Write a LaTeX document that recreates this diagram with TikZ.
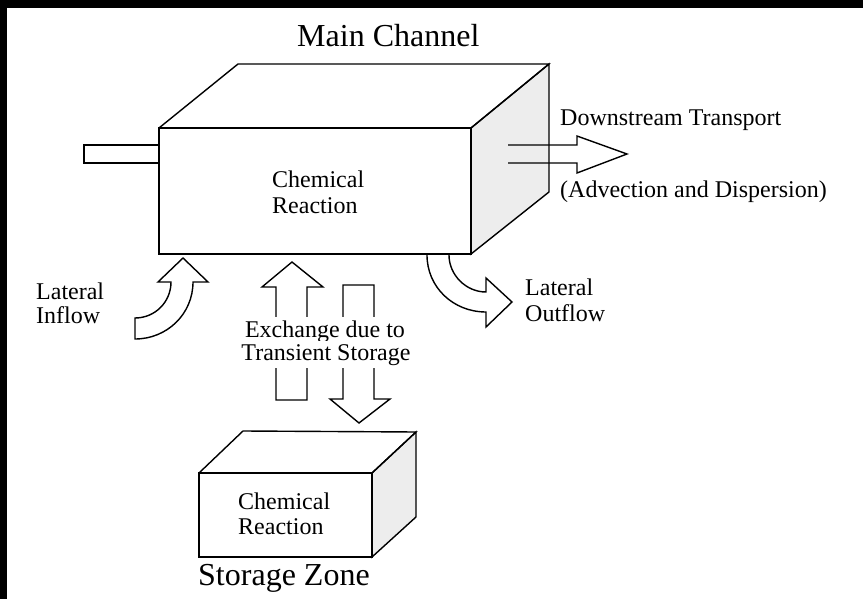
\documentclass[tikz,border=0pt]{standalone}
\usepackage{fontspec}
\setmainfont{Liberation Serif}
\begin{document}
\begin{tikzpicture}[x=1pt,y=-1pt,
  line/.style={draw=black,line width=1.4pt,line join=miter},
  face/.style={line,fill=black!7},
  lbl/.style={anchor=base west,inner sep=0pt,font=\fontsize{24}{26}\selectfont},
  ttl/.style={anchor=base west,inner sep=0pt,font=\fontsize{32}{34}\selectfont},
  xlbl/.style={anchor=base,fill=white,inner xsep=2pt,inner ysep=3pt,font=\fontsize{24}{26}\selectfont}]
\useasboundingbox (0,0) rectangle (863,599);
\fill[white] (0,0) rectangle (863,599);
\fill[black] (0,0) rectangle (863,8);
\fill[black] (0,0) rectangle (7,599);

% main channel box
\coordinate (m1) at (159,128);
\coordinate (m2) at (471,128);
\coordinate (m3) at (471,254);
\coordinate (m4) at (159,254);
\coordinate (m5) at (238,64);
\coordinate (m6) at (549,64);
\coordinate (m7) at (549,192);
\path[face] (m2) -- (m6) -- (m7) -- (m3) -- cycle;
\path[line] (m1) -- (m5) -- (m6) -- (m2);
\path[line] (m1) rectangle (m3);

% inlet pipe
\path[line] (159,145) -- (84,145) -- (84,163) -- (159,163);

% downstream arrow
\path[line] (508,145) -- (577,145) -- (577,136) -- (627,154) -- (577,173) -- (577,163) -- (508,163);

% lateral inflow
\path[line,fill=white] (183,258) -- (208,282) -- (193,282)
  .. controls (193,314) and (167,339) .. (135,339) -- (135,318)
  .. controls (155,318) and (171,302) .. (171,282) -- (158,282) -- cycle;

% lateral outflow
\path[line,fill=white] (427,255) .. controls (427,287) and (453,312) .. (486,312)
  -- (486,327) -- (512,302) -- (486,278) -- (486,292)
  .. controls (466,292) and (449,275) .. (449,255);

% exchange arrows
\path[line] (276,400) -- (276,287) -- (262,287) -- (292,262) -- (323,287) -- (307,287) -- (307,400) -- cycle;
\path[line] (343,285) -- (374,285) -- (374,399) -- (390,399) -- (359,423) -- (330,399) -- (343,399) -- cycle;

% storage zone box
\coordinate (s1) at (199,473);
\coordinate (s2) at (372,473);
\coordinate (s3) at (372,557);
\coordinate (s5) at (243,431);
\coordinate (s6) at (416,432);
\coordinate (s7) at (416,517);
\path[face] (s2) -- (s6) -- (s7) -- (s3) -- cycle;
\path[line] (s1) -- (s5) -- (s6) -- (s2);
\path[line] (s1) rectangle (s3);

% texts
\node[ttl] (mc) at (297,47) {Main Channel};
\node[ttl] (sz) at (198,585) {Storage Zone};
\node[lbl] (mcr1) at (272,188) {Chemical};
\node[lbl] (mcr2) at (272,214) {Reaction};
\node[lbl] (scr1) at (238,509) {Chemical};
\node[lbl] (scr2) at (238,534) {Reaction};
\node[lbl] (li1) at (36,299) {Lateral};
\node[lbl] (li2) at (36,323) {Inflow};
\node[lbl] (lo1) at (525,295) {Lateral};
\node[lbl] (lo2) at (525,321) {Outflow};
\node[lbl] (ds1) at (560,126) {Downstream Transport};
\node[lbl] (ds2) at (560,198) {(Advection and Dispersion)};
\node[xlbl] (ex1) at (325,337) {Exchange due to};
\node[xlbl] (ex2) at (326,360) {Transient Storage};
\end{tikzpicture}
\end{document}
